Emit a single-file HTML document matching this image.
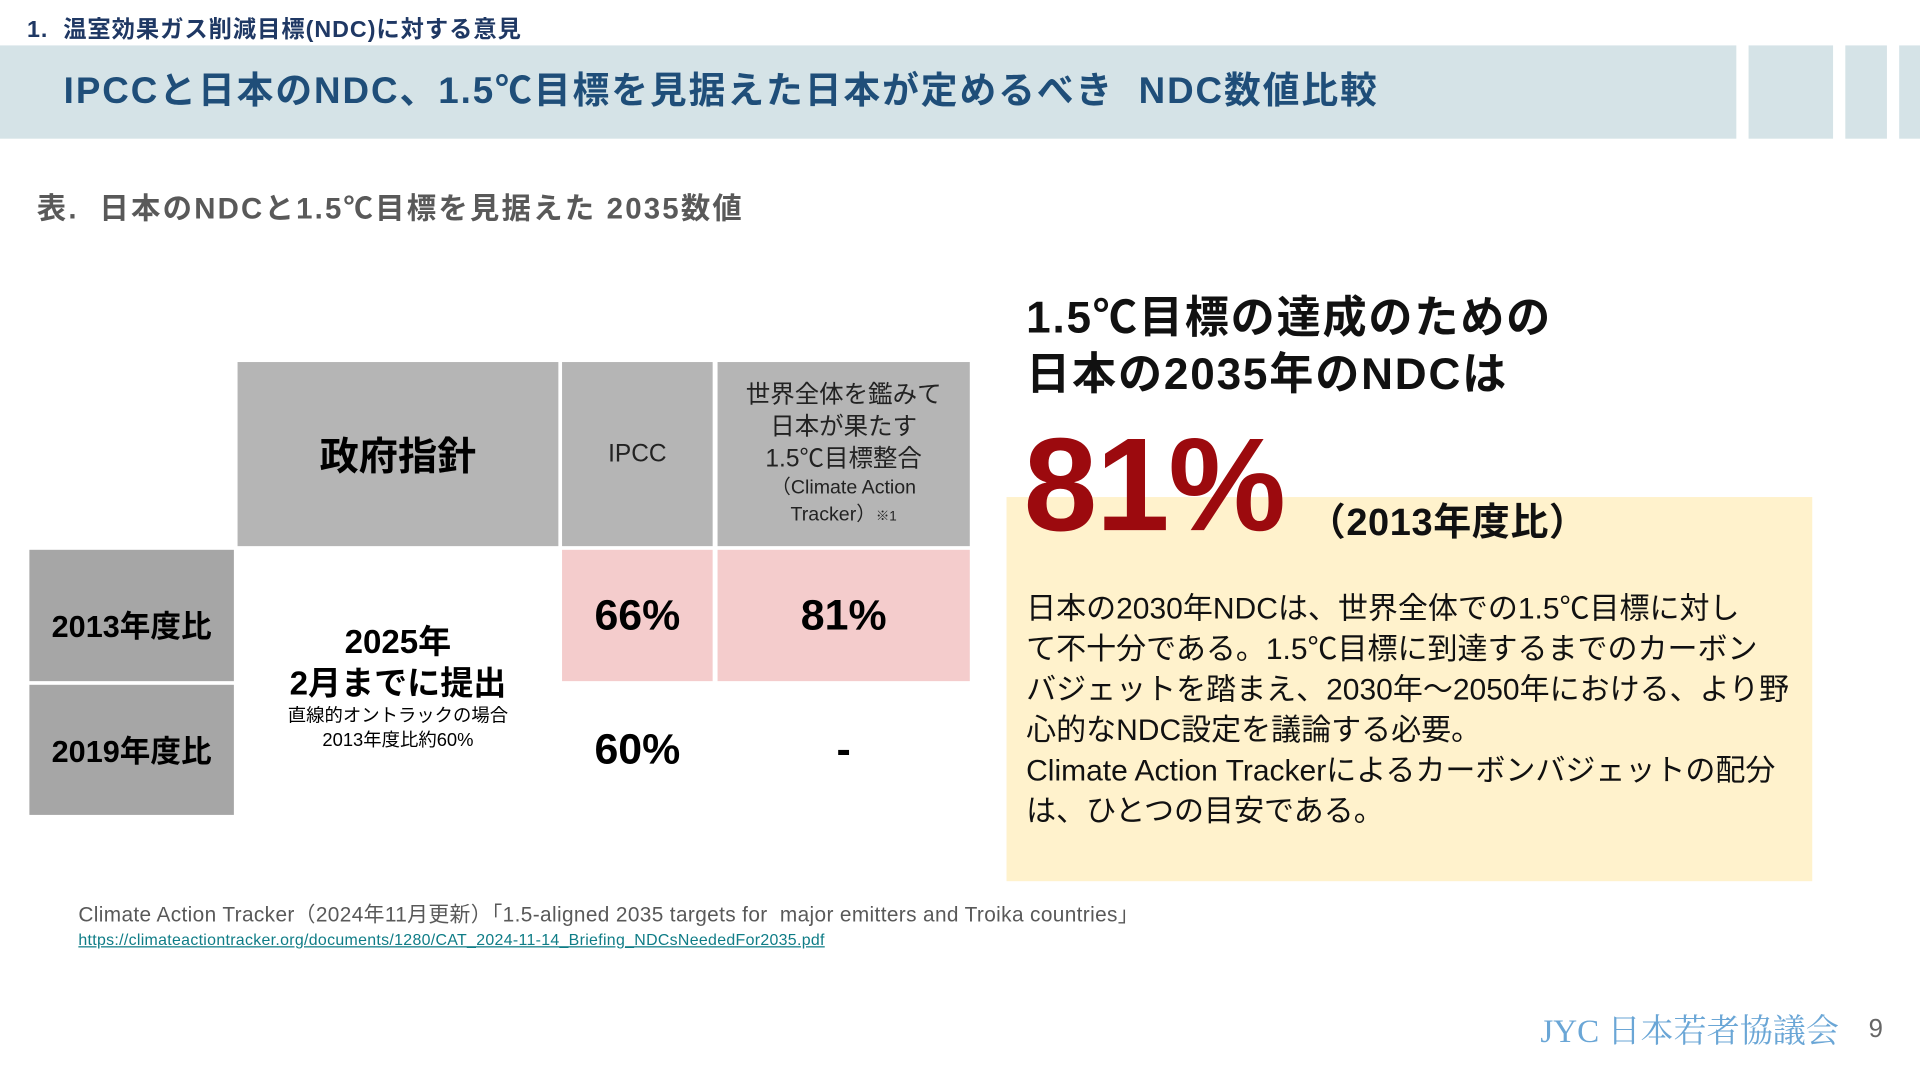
<!DOCTYPE html>
<html><head><meta charset="utf-8">
<style>
html,body{margin:0;padding:0;width:1920px;height:1080px;overflow:hidden;background:#fff}
#s{position:absolute;left:0;top:0;width:1568px;height:880px;transform:scale(1.22449,1.22727);transform-origin:0 0;font-family:"Liberation Sans","Noto Sans CJK JP",sans-serif}
.a{position:absolute;white-space:nowrap}
.c{position:absolute;display:flex;align-items:center;justify-content:center;text-align:center;flex-direction:column}
</style></head><body>
<div id="s">
<div class="a" style="left:22px;top:9px;font-size:19px;font-weight:bold;color:#1f3864;letter-spacing:0.8px">1.&nbsp; 温室効果ガス削減目標(NDC)に対する意見</div>
<div class="a" style="left:0;top:37px;width:1418px;height:76px;background:#d5e3e7"></div>
<div class="a" style="left:1428px;top:37px;width:69px;height:76px;background:#d5e3e7"></div>
<div class="a" style="left:1507px;top:37px;width:34px;height:76px;background:#d5e3e7"></div>
<div class="a" style="left:1551px;top:37px;width:17px;height:76px;background:#d5e3e7"></div>
<div class="a" style="left:52px;top:55px;font-size:30px;font-weight:bold;color:#1f4e79;letter-spacing:1.6px;line-height:40px">IPCCと日本のNDC、1.5℃目標を見据えた日本が定めるべき&nbsp; NDC数値比較</div>
<div class="a" style="left:30px;top:150px;font-size:24px;font-weight:bold;color:#595959;letter-spacing:1.8px">表.&nbsp; 日本のNDCと1.5℃目標を見据えた 2035数値</div>

<div class="c" style="left:194px;top:295px;width:262px;height:150px;background:#b5b5b5;font-size:32px;font-weight:bold;color:#000">政府指針</div>
<div class="c" style="left:459px;top:295px;width:123px;height:150px;background:#b5b5b5;font-size:20px;color:#222">IPCC</div>
<div class="c" style="left:586px;top:295px;width:206px;height:150px;background:#b5b5b5;font-size:20px;color:#222;line-height:26px"><div>世界全体を鑑みて<br>日本が果たす<br>1.5℃目標整合</div><div style="font-size:16px;line-height:22px">（Climate Action<br>Tracker）<span style="font-size:11px">※1</span></div></div>
<div class="c" style="left:24px;top:448px;width:167px;height:107px;background:#a6a6a6;font-size:25px;font-weight:bold;padding-top:14px;box-sizing:border-box">2013年度比</div>
<div class="c" style="left:24px;top:558px;width:167px;height:106px;background:#a6a6a6;font-size:25px;font-weight:bold">2019年度比</div>
<div class="c" style="left:194px;top:500px;width:262px;height:120px;color:#000"><div style="font-size:27px;font-weight:bold;line-height:34px">2025年<br>2月までに提出</div><div style="font-size:15px;line-height:20px">直線的オントラックの場合<br>2013年度比約60%</div></div>
<div class="c" style="left:459px;top:448px;width:123px;height:107px;background:#f4cccc;font-size:35px;font-weight:bold">66%</div>
<div class="c" style="left:586px;top:448px;width:206px;height:107px;background:#f4cccc;font-size:35px;font-weight:bold">81%</div>
<div class="c" style="left:459px;top:558px;width:123px;height:106px;font-size:35px;font-weight:bold">60%</div>
<div class="c" style="left:586px;top:558px;width:206px;height:106px;font-size:35px;font-weight:bold">-</div>

<div class="a" style="left:822px;top:405px;width:658px;height:313px;background:#fff2cc"></div>
<div class="a" style="left:838px;top:236px;font-size:36px;font-weight:bold;line-height:46px;color:#111;letter-spacing:1.5px">1.5℃目標の達成のための<br>日本の2035年のNDCは</div>
<div class="a" style="left:836px;top:340px;font-size:108px;font-weight:bold;color:#9c0a0e;letter-spacing:-1px;line-height:110px">81%</div>
<div class="a" style="left:1068px;top:400px;font-size:31px;font-weight:bold;color:#111;letter-spacing:0.5px">（2013年度比）</div>
<div class="a" style="left:838px;top:480px;font-size:24.5px;line-height:33px;color:#111">日本の2030年NDCは、世界全体での1.5℃目標に対し<br>て不十分である。1.5℃目標に到達するまでのカーボン<br>バジェットを踏まえ、2030年～2050年における、より野<br>心的なNDC設定を議論する必要。<br>Climate Action Trackerによるカーボンバジェットの配分<br>は、ひとつの目安である。</div>

<div class="a" style="left:64px;top:731px;font-size:17px;color:#595959;letter-spacing:0.3px">Climate Action Tracker（2024年11月更新）｢1.5-aligned 2035 targets for&nbsp; major emitters and Troika countries｣</div>
<div class="a" style="left:64px;top:758px;font-size:13px;color:#0e7c86;text-decoration:underline;letter-spacing:0.25px">https://climateactiontracker.org/documents/1280/CAT_2024-11-14_Briefing_NDCsNeededFor2035.pdf</div>
<div class="a" style="left:1258px;top:818px;font-size:27px;color:#6aa6d6;font-family:'Liberation Serif','Noto Serif CJK SC',serif">JYC 日本若者協議会</div>
<div class="a" style="left:1526px;top:827px;font-size:21px;color:#666">9</div>
</div>
</body></html>
